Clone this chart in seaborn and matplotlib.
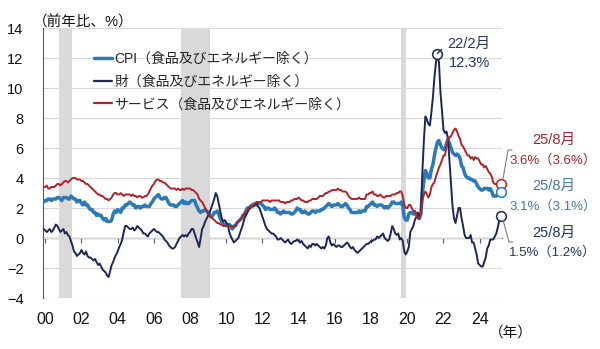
import matplotlib
matplotlib.use("Agg")
import matplotlib.pyplot as plt
from matplotlib.lines import Line2D
import numpy as np
import pandas as pd
import seaborn as sns

# ---------------- data (YoY %, monthly, 2000/5 - 2025/8) ----------------
start_month = "2000-05"

core_cpi = [
    2.4, 2.5, 2.5, 2.6, 2.6, 2.5, 2.6, 2.6,                          # 2000 (May-)
    2.6, 2.7, 2.7, 2.6, 2.5, 2.7, 2.7, 2.7, 2.6, 2.6, 2.8, 2.7,      # 2001
    2.6, 2.6, 2.4, 2.5, 2.5, 2.3, 2.2, 2.4, 2.2, 2.2, 2.0, 1.9,      # 2002
    1.9, 1.7, 1.7, 1.5, 1.6, 1.5, 1.5, 1.3, 1.2, 1.3, 1.1, 1.1,      # 2003
    1.1, 1.2, 1.6, 1.8, 1.7, 1.9, 1.8, 1.7, 2.0, 2.0, 2.2, 2.2,      # 2004
    2.3, 2.4, 2.3, 2.2, 2.2, 2.0, 2.1, 2.1, 2.0, 2.1, 2.1, 2.2,      # 2005
    2.1, 2.1, 2.1, 2.3, 2.4, 2.6, 2.7, 2.8, 2.9, 2.7, 2.6, 2.6,      # 2006
    2.7, 2.7, 2.5, 2.3, 2.2, 2.2, 2.2, 2.1, 2.1, 2.2, 2.3, 2.4,      # 2007
    2.5, 2.3, 2.4, 2.3, 2.3, 2.4, 2.5, 2.5, 2.5, 2.2, 2.0, 1.8,      # 2008
    1.7, 1.8, 1.8, 1.9, 1.8, 1.7, 1.5, 1.4, 1.5, 1.7, 1.7, 1.8,      # 2009
    1.6, 1.3, 1.1, 0.9, 0.9, 0.9, 0.9, 0.9, 0.8, 0.6, 0.8, 0.8,      # 2010
    1.0, 1.1, 1.2, 1.3, 1.5, 1.6, 1.8, 2.0, 2.0, 2.1, 2.2, 2.2,      # 2011
    2.3, 2.2, 2.3, 2.3, 2.3, 2.2, 2.1, 1.9, 2.0, 2.0, 1.9, 1.9,      # 2012
    1.9, 2.0, 1.9, 1.7, 1.7, 1.6, 1.7, 1.8, 1.7, 1.7, 1.7, 1.7,      # 2013
    1.6, 1.6, 1.7, 1.8, 2.0, 1.9, 1.9, 1.7, 1.7, 1.8, 1.7, 1.6,      # 2014
    1.6, 1.7, 1.8, 1.8, 1.7, 1.8, 1.8, 1.8, 1.9, 1.9, 2.0, 2.1,      # 2015
    2.2, 2.3, 2.2, 2.1, 2.2, 2.2, 2.2, 2.3, 2.2, 2.1, 2.1, 2.2,      # 2016
    2.3, 2.2, 2.0, 1.9, 1.7, 1.7, 1.7, 1.7, 1.7, 1.8, 1.7, 1.8,      # 2017
    1.8, 1.8, 2.1, 2.1, 2.2, 2.3, 2.4, 2.2, 2.2, 2.1, 2.2, 2.2,      # 2018
    2.2, 2.1, 2.0, 2.1, 2.0, 2.1, 2.2, 2.4, 2.4, 2.3, 2.3, 2.3,      # 2019
    2.3, 2.4, 2.1, 1.4, 1.2, 1.2, 1.6, 1.7, 1.7, 1.6, 1.6, 1.6,      # 2020
    1.4, 1.3, 1.6, 3.0, 3.8, 4.5, 4.3, 4.0, 4.0, 4.6, 4.9, 5.5,      # 2021
    6.0, 6.4, 6.5, 6.2, 6.0, 5.9, 5.9, 6.3, 6.6, 6.3, 6.0, 5.7,      # 2022
    5.6, 5.5, 5.6, 5.5, 5.3, 4.8, 4.7, 4.3, 4.1, 4.0, 4.0, 3.9,      # 2023
    3.9, 3.8, 3.8, 3.6, 3.4, 3.3, 3.2, 3.2, 3.3, 3.3, 3.3, 3.2,      # 2024
    3.3, 3.1, 2.8, 2.8, 2.8, 2.9, 3.1, 3.1,                          # 2025 (-Aug)
]

core_goods = [
    0.6, 0.5, 0.4, 0.5, 0.6, 0.4, 0.5, 0.7,
    0.9, 0.8, 0.6, 0.4, 0.5, 0.6, 0.3, 0.4, 0.2, 0.1, -0.2, -0.5,
    -0.9, -1.0, -1.2, -1.1, -1.0, -0.8, -1.0, -1.1, -0.9, -1.2, -1.3, -1.3,
    -1.4, -1.5, -1.4, -1.6, -1.8, -1.7, -1.9, -2.1, -2.2, -2.3, -2.5, -2.6,
    -2.2, -1.8, -1.6, -1.3, -1.1, -0.9, -0.6, -0.4, -0.1, 0.4, 0.8, 0.8,
    0.7, 0.6, 0.6, 0.7, 0.5, 0.6, 0.8, 0.7, 0.6, 0.5, 0.3, 0.3,
    0.2, 0.1, 0.3, 0.4, 0.5, 0.6, 0.5, 0.4, 0.4, 0.3, 0.2, 0.1,
    -0.1, -0.2, -0.3, -0.5, -0.6, -0.7, -0.7, -0.6, -0.4, -0.2, 0.0, 0.1,
    0.2, 0.1, 0.2, 0.1, 0.3, 0.4, 0.6, 0.6, 0.3, 0.0, -0.3, -0.6,
    0.0, 0.6, 0.8, 1.1, 1.3, 1.5, 1.7, 2.0, 2.3, 2.6, 3.0, 2.8,
    2.3, 1.8, 1.3, 1.1, 1.2, 1.0, 0.9, 0.4, 0.1, -0.1, -0.3, -0.2,
    -0.1, 0.0, 0.3, 0.6, 0.9, 1.3, 1.5, 1.7, 1.9, 2.0, 2.1, 2.1,
    2.2, 2.3, 2.1, 2.0, 1.7, 1.4, 1.1, 0.8, 0.6, 0.5, 0.4, 0.3,
    0.3, 0.2, 0.1, -0.1, -0.1, 0.0, -0.1, -0.2, -0.3, -0.2, -0.1, -0.3,
    -0.4, -0.3, -0.2, -0.2, -0.1, -0.2, -0.3, -0.2, -0.4, -0.5, -0.6, -0.7,
    -0.5, -0.6, -0.4, -0.4, -0.5, -0.4, -0.5, -0.6, -0.7, -0.6, -0.7, -0.5,
    0.0, 0.1, -0.3, -0.5, -0.4, -0.5, -0.6, -0.5, -0.5, -0.6, -0.6, -0.5,
    -0.4, -0.3, -0.4, -0.6, -0.7, -0.6, -0.8, -0.9, -1.0, -0.9, -0.8, -0.7,
    -0.6, -0.5, -0.4, -0.4, -0.3, -0.2, -0.2, -0.1, -0.1, 0.1, 0.0, 0.1,
    0.2, 0.3, 0.0, -0.1, -0.2, -0.1, 0.3, 0.8, 0.6, 0.3, 0.2, 0.3,
    -0.1, 0.0, -0.2, -0.9, -1.1, -0.9, -0.6, 0.4, 0.6, 0.8, 1.2, 1.4,
    1.7, 1.3, 1.7, 4.4, 6.5, 8.1, 7.9, 7.6, 7.5, 8.4, 9.4, 10.7,
    11.7, 12.3, 11.7, 9.7, 8.5, 7.2, 7.0, 7.1, 6.6, 5.1, 3.7, 2.1,
    1.3, 1.0, 1.5, 2.0, 2.0, 1.3, 0.8, 0.2, 0.0, 0.0, 0.0, 0.2,
    -0.3, -0.3, -0.7, -1.1, -1.7, -1.8, -1.9, -1.9, -1.6, -1.3, -0.7, -0.5,
    -0.1, -0.1, -0.1, 0.1, 0.3, 0.7, 1.2, 1.5,
]

core_services = [
    3.4, 3.4, 3.5, 3.3, 3.3, 3.4, 3.4, 3.4,
    3.5, 3.6, 3.6, 3.5, 3.6, 3.7, 3.8, 3.8, 3.7, 3.8, 3.9, 4.0,
    4.0, 4.0, 3.9, 3.9, 3.9, 3.8, 3.8, 3.7, 3.6, 3.6, 3.5, 3.4,
    3.3, 3.2, 3.1, 3.0, 2.9, 2.9, 2.8, 2.8, 2.7, 2.6, 2.6, 2.5,
    2.6, 2.7, 2.9, 3.0, 3.0, 2.9, 2.9, 3.0, 2.9, 2.8, 2.9, 2.9,
    2.9, 2.9, 2.8, 2.9, 2.8, 2.8, 2.7, 2.8, 2.8, 2.7, 2.7, 2.8,
    2.8, 2.9, 3.1, 3.3, 3.5, 3.6, 3.8, 3.9, 3.9, 3.8, 3.8, 3.7,
    3.7, 3.6, 3.5, 3.4, 3.3, 3.3, 3.3, 3.3, 3.2, 3.3, 3.2, 3.2,
    3.3, 3.2, 3.3, 3.3, 3.3, 3.3, 3.2, 3.2, 3.1, 3.0, 2.9, 2.6,
    2.5, 2.4, 2.2, 2.0, 1.8, 1.6, 1.5, 1.4, 1.3, 1.2, 1.1, 1.0,
    1.0, 0.9, 0.9, 0.8, 0.8, 0.8, 0.8, 0.8, 0.8, 0.7, 0.8, 0.8,
    1.0, 1.1, 1.2, 1.3, 1.5, 1.6, 1.7, 1.9, 2.0, 2.1, 2.1, 2.2,
    2.3, 2.4, 2.4, 2.4, 2.4, 2.5, 2.5, 2.5, 2.5, 2.5, 2.4, 2.5,
    2.5, 2.5, 2.5, 2.5, 2.5, 2.4, 2.4, 2.4, 2.3, 2.4, 2.4, 2.4,
    2.5, 2.5, 2.6, 2.6, 2.6, 2.7, 2.6, 2.5, 2.5, 2.4, 2.4, 2.4,
    2.5, 2.5, 2.6, 2.6, 2.6, 2.6, 2.7, 2.8, 2.8, 2.8, 2.9, 3.0,
    3.0, 3.1, 3.1, 3.2, 3.2, 3.2, 3.2, 3.3, 3.2, 3.2, 3.1, 3.1,
    3.1, 3.0, 2.8, 2.7, 2.6, 2.6, 2.6, 2.6, 2.6, 2.7, 2.6, 2.6,
    2.6, 2.6, 2.9, 2.9, 3.0, 3.0, 3.1, 2.9, 2.9, 2.8, 2.8, 2.9,
    2.8, 2.7, 2.7, 2.8, 2.8, 2.8, 2.8, 2.9, 2.9, 2.9, 3.0, 3.0,
    3.1, 3.1, 2.8, 2.2, 2.0, 2.0, 2.2, 2.2, 2.0, 1.8, 1.8, 1.6,
    1.3, 1.3, 1.6, 2.5, 2.9, 3.1, 2.9, 2.7, 2.9, 3.4, 3.6, 3.7,
    4.1, 4.4, 4.7, 4.9, 5.2, 5.5, 5.5, 6.1, 6.7, 6.7, 6.8, 7.0,
    7.2, 7.3, 7.1, 6.8, 6.6, 6.2, 6.1, 5.9, 5.7, 5.5, 5.5, 5.3,
    5.4, 5.2, 5.4, 5.3, 5.3, 5.1, 4.9, 4.9, 4.7, 4.8, 4.6, 4.4,
    4.3, 4.1, 3.7, 3.6, 3.6, 3.6, 3.6, 3.6,
]

series_labels = ["CPI（食品及びエネルギー除く）",
                 "財（食品及びエネルギー除く）",
                 "サービス（食品及びエネルギー除く）"]
rec_start = ["2001-03", "2007-12", "2020-02"]
rec_end = ["2001-11", "2009-06", "2020-04"]
tick_years = list(range(2000, 2025, 2))
tick_labels = [f"{y % 100:02d}" for y in tick_years]
y_ticks = list(range(-4, 15, 2))

# ---------------- styling ----------------
sns.set_theme(style="white")
plt.rcParams["font.family"] = ["Liberation Sans", "Noto Sans CJK JP", "DejaVu Sans"]
plt.rcParams["axes.unicode_minus"] = True

C_CPI = "#2a7ab8"
C_GOODS = "#1b2857"
C_SERV = "#b0232a"
C_CPI_TXT = "#4a78a4"
C_GOODS_TXT = "#1f3864"
C_SERV_TXT = "#a0262c"
GRID = "#d9d9d9"
AXC = "#595959"

W, H = 600, 349
fig = plt.figure(figsize=(W / 100, H / 100), dpi=100)
ax = fig.add_axes([43 / W, 1 - 298 / H, 459 / W, 270 / H])


def dec(period):
    return period.year + (period.month - 1) / 12


periods = pd.period_range(start_month, periods=len(core_cpi), freq="M")
t = np.array([dec(p) for p in periods])
df = pd.DataFrame({"t": t, "cpi": core_cpi, "goods": core_goods, "serv": core_services})

# recession shading
for s, e in zip(rec_start, rec_end):
    ps, pe = pd.Period(s, "M"), pd.Period(e, "M")
    ax.axvspan(dec(ps), dec(pe) + 1 / 12, color=GRID, lw=0, zorder=0.5)

sns.lineplot(data=df, x="t", y="cpi", ax=ax, color=C_CPI, lw=2.5, label=series_labels[0], zorder=3)
sns.lineplot(data=df, x="t", y="goods", ax=ax, color=C_GOODS, lw=1.4, label=series_labels[1], zorder=4)
sns.lineplot(data=df, x="t", y="serv", ax=ax, color=C_SERV, lw=1.4, label=series_labels[2], zorder=5)

ax.set_xlim(2000.29, 2025.65)
ax.set_ylim(-4, 14)
ax.set_xlabel("")
ax.set_ylabel("")

# y axis
ax.set_yticks(y_ticks)
ax.yaxis.grid(True, color=GRID, lw=0.8)
ax.set_axisbelow(True)
ax.tick_params(axis="y", length=3, width=0.8, color=AXC, pad=11, labelsize=10.5, labelcolor="#111111")
for sp in ["top", "right", "bottom"]:
    ax.spines[sp].set_visible(False)
ax.spines["left"].set_color(AXC)
ax.spines["left"].set_linewidth(0.8)

# x tick labels at the bottom (mid-year)
tick_pos = [y + 5 / 12 for y in tick_years]
ax.set_xticks(tick_pos)
ax.set_xticklabels(tick_labels)
ax.tick_params(axis="x", length=0, pad=10, labelsize=11.5, labelcolor="#111111")

# zero line with tick marks
sec = ax.secondary_xaxis(4 / 18)
sec.set_xticks(tick_pos)
sec.set_xticklabels([])
sec.tick_params(direction="out", length=3.5, width=0.8, color=AXC)
for sp in sec.spines.values():
    sp.set_color(AXC)
    sp.set_linewidth(0.9)

# legend
h, l = ax.get_legend_handles_labels()
leg = ax.legend(h, l, loc="upper left", bbox_to_anchor=(94 / W, 1 - 52 / H),
                bbox_transform=fig.transFigure, frameon=False, fontsize=10,
                handlelength=1.3, handletextpad=0.15, labelspacing=0.62,
                borderpad=0, borderaxespad=0)
for line in leg.get_lines():
    line.set_linewidth(2.5 if line.get_color() == C_CPI else 1.6)

# header texts
fig.text(33 / W, 1 - 22 / H, "（前年比、%）", ha="left", va="center", fontsize=10.5, color="#111111")
fig.text(511 / W, 1 - 333 / H, "（年）", ha="center", va="center", fontsize=10.5, color="#111111")

# peak marker (goods)
ipk = int(np.argmax(core_goods))
ax.plot(t[ipk], core_goods[ipk], "o", ms=7, mfc="white", mec=C_GOODS, mew=1.1, zorder=7, clip_on=False)
ax.annotate("", xy=(t[ipk], core_goods[ipk]), xytext=(3, 3), textcoords="offset points",
            arrowprops=dict(arrowstyle="-", color=C_GOODS, lw=0.9, shrinkA=0, shrinkB=0), zorder=8)
p = periods[ipk]
fig.text(469 / W, 1 - 44 / H, f"{p.year % 100}/{p.month}月", ha="center", va="center",
         fontsize=10.5, color=C_GOODS_TXT)
fig.text(469 / W, 1 - 63 / H, f"{core_goods[ipk]:.1f}%", ha="center", va="center",
         fontsize=10.5, color=C_GOODS_TXT)

# end markers and labels
last = periods[-1]
end_lab = f"{last.year % 100}/{last.month}月"
ends = [
    (core_services, C_SERV, C_SERV_TXT, 140, 160),
    (core_cpi, C_CPI, C_CPI_TXT, 186, 206),
    (core_goods, C_GOODS, C_GOODS_TXT, 233, 252),
]
for vals, lc, tc, y1, y2 in ends:
    ax.plot(t[-1], vals[-1], "o", ms=7, mfc="white", mec=lc, mew=1.1, zorder=7, clip_on=False)
    fig.text(554 / W, 1 - y1 / H, end_lab, ha="center", va="center", fontsize=10.5, color=tc)
    fig.text(553 / W, 1 - y2 / H, f"{vals[-1]:.1f}%（{vals[-2]:.1f}%）", ha="center", va="center",
             fontsize=9.5, color=tc)

# leader lines
for pts in ([(503, 179), (508, 150), (512, 150)], [(503, 220), (509, 242), (513, 242)]):
    xs = [p_[0] / W for p_ in pts]
    ys = [1 - p_[1] / H for p_ in pts]
    fig.add_artist(Line2D(xs, ys, color="#808080", lw=0.8, transform=fig.transFigure))

fig.savefig("out.png", dpi=100)
